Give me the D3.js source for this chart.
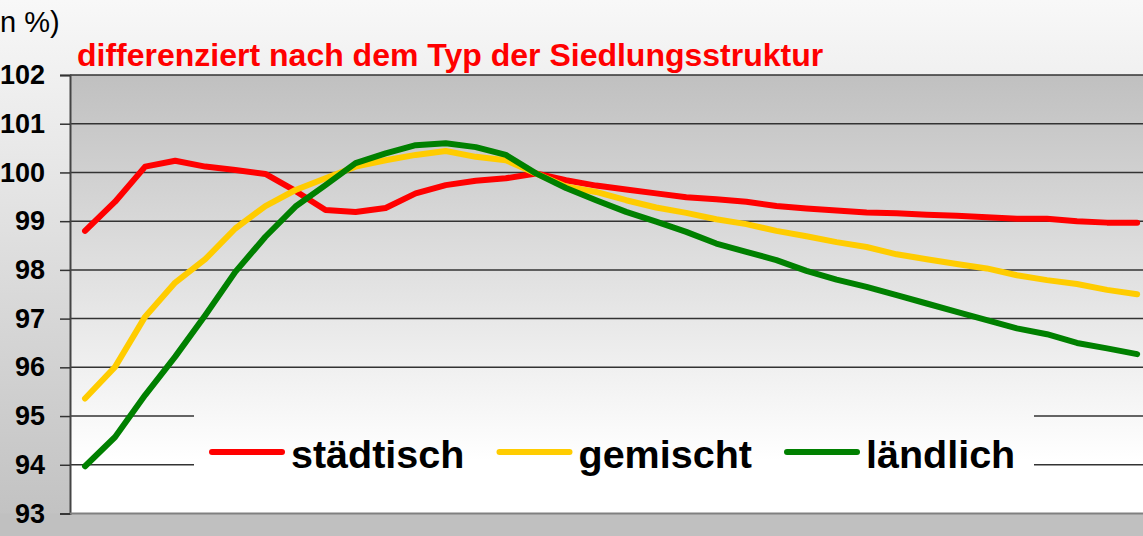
<!DOCTYPE html>
<html>
<head>
<meta charset="utf-8">
<script src="https://cdn.jsdelivr.net/npm/d3@7"></script>
<style>
  body { margin: 0; }
  svg { display: block; font-family: "Liberation Sans", Arial, sans-serif; }
</style>
</head>
<body>
<div id="chart"></div>
<script>
// categories (years, axis labels not visible in the picture)
var years = d3.range(1990, 2026);
var seriesNames = ["städtisch", "gemischt", "ländlich"];
var seriesColors = ["#ff0000", "#ffcc00", "#008000"];
var yTicks = [93, 94, 95, 96, 97, 98, 99, 100, 101, 102];

var staedtisch = [98.80, 99.40, 100.12, 100.24, 100.12, 100.05, 99.97, 99.62, 99.23, 99.19,
                  99.27, 99.57, 99.74, 99.83, 99.88, 99.98, 99.84, 99.73, 99.65, 99.57,
                  99.49, 99.45, 99.40, 99.31, 99.26, 99.22, 99.18, 99.16, 99.13, 99.11,
                  99.08, 99.05, 99.05, 99.00, 98.97, 98.97];
var gemischt = [95.36, 96.01, 97.04, 97.74, 98.22, 98.85, 99.31, 99.64, 99.88, 100.12,
                100.25, 100.36, 100.44, 100.32, 100.25, 99.98, 99.71, 99.60, 99.43, 99.28,
                99.17, 99.04, 98.94, 98.80, 98.69, 98.57, 98.47, 98.32, 98.22, 98.12,
                98.03, 97.89, 97.79, 97.71, 97.59, 97.50];
var laendlich = [93.97, 94.57, 95.43, 96.22, 97.07, 97.96, 98.68, 99.30, 99.74, 100.19,
                 100.39, 100.56, 100.60, 100.52, 100.36, 99.98, 99.68, 99.43, 99.19, 98.99,
                 98.78, 98.54, 98.37, 98.20, 97.98, 97.80, 97.65, 97.48, 97.31, 97.14,
                 96.97, 96.80, 96.68, 96.50, 96.39, 96.27];
var seriesValues = [staedtisch, gemischt, laendlich];

var width = 1143, height = 536,
    plotLeft = 70, plotTop = 75, plotBottom = 513.5,
    catWidth = 30.06;

var svg = d3.select("#chart").append("svg")
    .attr("width", width)
    .attr("height", height);

var defs = svg.append("defs");
var bgGrad = defs.append("linearGradient").attr("id", "bg")
    .attr("x1", 0).attr("y1", 0).attr("x2", 0).attr("y2", 1);
bgGrad.append("stop").attr("offset", "0%").attr("stop-color", "#f8f8f8");
bgGrad.append("stop").attr("offset", "100%").attr("stop-color", "#c0c0c0");

var plotGrad = defs.append("linearGradient").attr("id", "plotbg")
    .attr("gradientUnits", "userSpaceOnUse")
    .attr("x1", 0).attr("y1", plotTop).attr("x2", 0).attr("y2", plotBottom);
plotGrad.append("stop").attr("offset", "0%").attr("stop-color", "#c0c0c0");
plotGrad.append("stop").attr("offset", "88%").attr("stop-color", "#ffffff");
plotGrad.append("stop").attr("offset", "100%").attr("stop-color", "#ffffff");

svg.append("rect").attr("width", width).attr("height", height).attr("fill", "url(#bg)");
svg.append("rect").attr("x", 0).attr("y", plotBottom).attr("width", width)
    .attr("height", height - plotBottom).attr("fill", "#c0c0c0");

var x = d3.scaleBand()
    .domain(years)
    .range([plotLeft, plotLeft + years.length * catWidth])
    .paddingInner(0).paddingOuter(0);

var y = d3.scaleLinear()
    .domain([93, 102])
    .range([plotBottom, plotTop]);

// plot area
svg.append("rect")
    .attr("x", plotLeft).attr("y", plotTop)
    .attr("width", width - plotLeft).attr("height", plotBottom - plotTop)
    .attr("fill", "url(#plotbg)");

// gridlines
svg.append("g").selectAll("line")
    .data(yTicks.slice(1))
    .enter().append("line")
    .attr("x1", plotLeft).attr("x2", width)
    .attr("y1", function(d) { return y(d); })
    .attr("y2", function(d) { return y(d); })
    .attr("stroke", "#333")
    .attr("stroke-width", 1.5);

// y axis
var yAxis = svg.append("g")
    .attr("transform", "translate(" + plotLeft + ",0)")
    .call(d3.axisLeft(y).tickValues(yTicks).tickSize(10).tickPadding(14).tickFormat(d3.format("d")));
yAxis.select(".domain").attr("stroke", "#444").attr("stroke-width", 2);
yAxis.selectAll(".tick line").attr("stroke", "#333").attr("stroke-width", 1.5);
yAxis.selectAll(".tick text")
    .attr("font-family", "'Liberation Sans', Arial, sans-serif")
    .attr("font-size", 27).attr("font-weight", "bold").attr("fill", "#000")
    .attr("x", -25);

// legend box (drawn before lines so the gridlines are hidden behind it)
var legendG = svg.append("g");
legendG.append("rect")
    .attr("x", 194).attr("y", 405)
    .attr("width", 1034 - 194).attr("height", 100)
    .attr("fill", "url(#plotbg)");

// x axis line
svg.append("line")
    .attr("x1", plotLeft).attr("x2", width)
    .attr("y1", plotBottom).attr("y2", plotBottom)
    .attr("stroke", "#808080").attr("stroke-width", 2);

var line = d3.line()
    .x(function(d, i) { return x(years[i]) + x.bandwidth() / 2; })
    .y(function(d) { return y(d); });

svg.append("g").selectAll("path")
    .data(seriesValues)
    .enter().append("path")
    .attr("d", line)
    .attr("fill", "none")
    .attr("stroke", function(d, i) { return seriesColors[i]; })
    .attr("stroke-width", 6)
    .attr("stroke-linejoin", "round")
    .attr("stroke-linecap", "round");

var items = legendG.selectAll("g.item")
    .data(seriesNames)
    .enter().append("g")
    .attr("transform", function(d, i) { return "translate(" + (212 + i * 287.5) + ",452)"; });
items.append("line")
    .attr("x1", 0).attr("x2", 70)
    .attr("stroke", function(d, i) { return seriesColors[i]; })
    .attr("stroke-width", 6)
    .attr("stroke-linecap", "round");
items.append("text")
    .attr("x", 79).attr("y", 15.5)
    .attr("font-size", 39.5).attr("font-weight", "bold")
    .text(function(d) { return d; });

// titles
svg.append("text")
    .attr("x", 77).attr("y", 66)
    .attr("font-size", 32).attr("font-weight", "bold")
    .attr("fill", "#ff0000")
    .text("differenziert nach dem Typ der Siedlungsstruktur");

var unit = svg.append("text")
    .attr("y", 32)
    .attr("font-size", 29)
    .attr("fill", "#000")
    .text("(in %)");
var cut = unit.node().getSubStringLength(0, 2);
unit.attr("x", -cut);
</script>
</body>
</html>
